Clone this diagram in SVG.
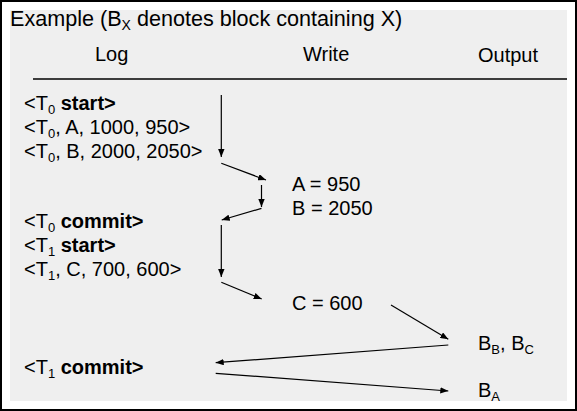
<svg xmlns="http://www.w3.org/2000/svg" width="577" height="411" viewBox="0 0 577 411">
<style>
text{font-family:"Liberation Sans",Arial,sans-serif;fill:#000}
.t{font-size:20px}
.b{font-weight:bold}
.s{font-size:13px}
.c{stroke:#000;stroke-width:1.2;fill:none;marker-end:url(#ah)}
</style>
<defs>
<marker id="ah" viewBox="0 0 10 8" refX="10" refY="4" markerWidth="8" markerHeight="6.4" markerUnits="userSpaceOnUse" orient="auto">
<path d="M0,0 L10,4 L0,8 Z" fill="#000"/>
</marker>
</defs>
<rect x="1" y="1" width="575" height="409" fill="#fff" stroke="#000" stroke-width="2"/>
<rect x="10" y="10" width="557" height="391" fill="#efefef"/>
<g id="title"><text x="10" y="26" style="font-size:21.6px">Example (B<tspan dy="4" style="font-size:14px">X</tspan><tspan dy="-4"> denotes block containing X)</tspan></text></g>
<g id="headers">
<text class="t" x="95" y="61">Log</text>
<text class="t" x="303" y="61">Write</text>
<text class="t" x="478" y="62">Output</text>
<line x1="33" y1="79" x2="567" y2="79" stroke="#000" stroke-width="1.5"/>
</g>
<g id="log">
<text class="t" x="24" y="110">&lt;T<tspan class="s" dy="4">0</tspan><tspan class="b" dy="-4"> start&gt;</tspan></text>
<text class="t" x="24" y="134">&lt;T<tspan class="s" dy="4">0</tspan><tspan dy="-4">, A, 1000, 950&gt;</tspan></text>
<text class="t" x="24" y="158">&lt;T<tspan class="s" dy="4">0</tspan><tspan dy="-4">, B, 2000, 2050&gt;</tspan></text>
<text class="t" x="24" y="228">&lt;T<tspan class="s" dy="4">0</tspan><tspan class="b" dy="-4"> commit&gt;</tspan></text>
<text class="t" x="24" y="252">&lt;T<tspan class="s" dy="4">1</tspan><tspan class="b" dy="-4"> start&gt;</tspan></text>
<text class="t" x="24" y="276">&lt;T<tspan class="s" dy="4">1</tspan><tspan dy="-4">, C, 700, 600&gt;</tspan></text>
<text class="t" x="24" y="374">&lt;T<tspan class="s" dy="4">1</tspan><tspan class="b" dy="-4"> commit&gt;</tspan></text>
</g>
<g id="write">
<text class="t" x="292" y="191">A = 950</text>
<text class="t" x="292" y="215">B = 2050</text>
<text class="t" x="292" y="310">C = 600</text>
</g>
<g id="output">
<text class="t" x="478" y="350">B<tspan class="s" dy="4">B</tspan><tspan dy="-4">, B</tspan><tspan class="s" dy="4">C</tspan></text>
<text class="t" x="478" y="397">B<tspan class="s" dy="4">A</tspan></text>
</g>
<g id="connectors">
<line class="c" x1="221.3" y1="95" x2="221.3" y2="157"/>
<line class="c" x1="221.3" y1="163.3" x2="266" y2="180"/>
<line class="c" x1="261.5" y1="185" x2="261.5" y2="207"/>
<line class="c" x1="261.5" y1="208.3" x2="221.7" y2="220"/>
<line class="c" x1="221.3" y1="225" x2="221.3" y2="277"/>
<line class="c" x1="221.3" y1="282.3" x2="261.7" y2="299"/>
<line class="c" x1="391" y1="305" x2="448.3" y2="339.3"/>
<line class="c" x1="448.3" y1="345" x2="215.7" y2="362.7"/>
<line class="c" x1="215.7" y1="373.3" x2="448.3" y2="391"/>
</g>
</svg>
